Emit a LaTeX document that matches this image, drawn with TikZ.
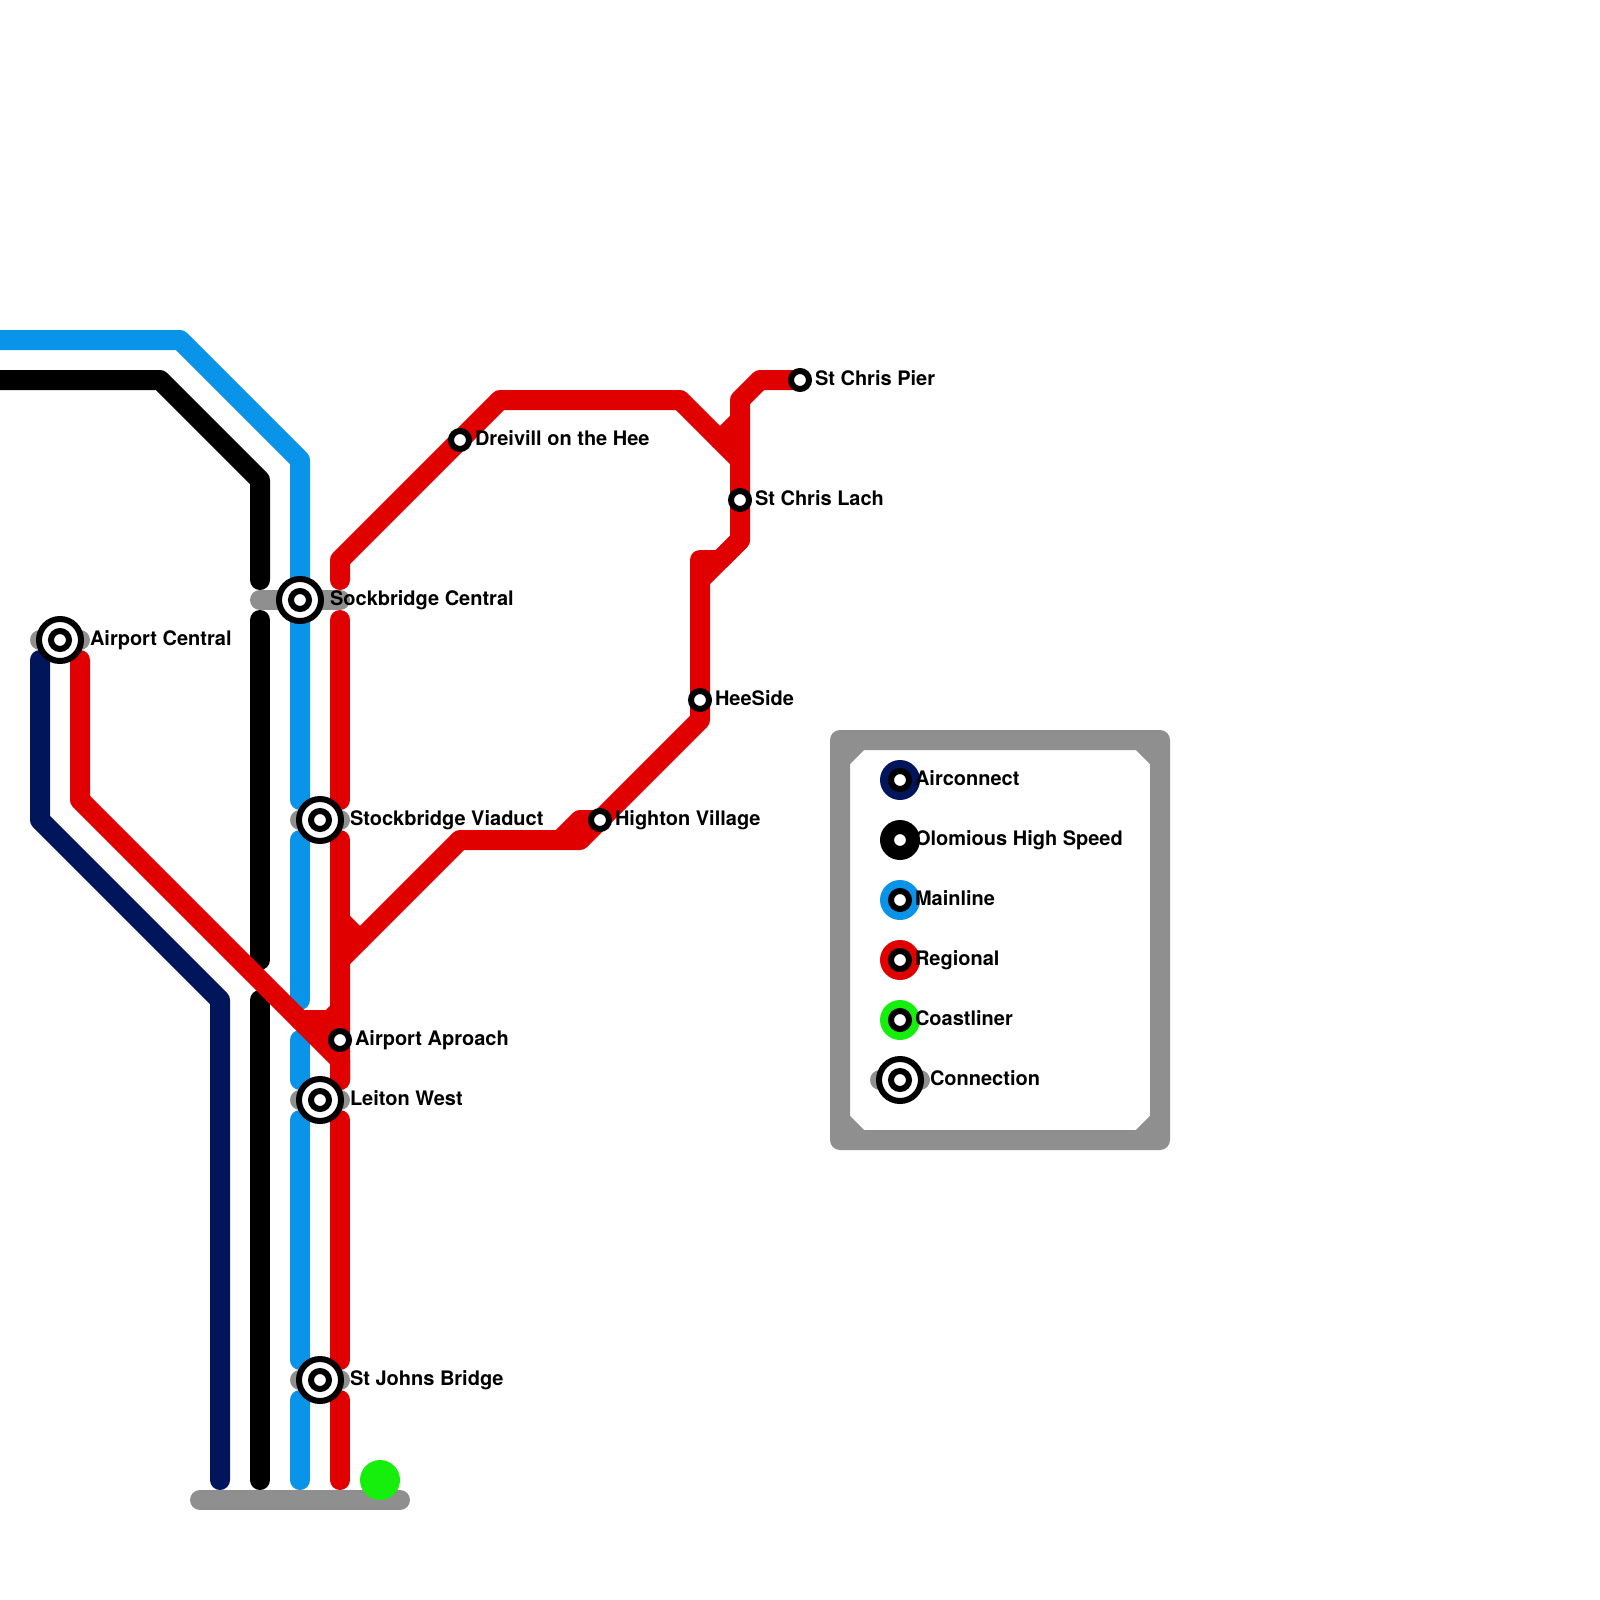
\documentclass[tikz,border=0pt]{standalone}
\usepackage{fontspec}
\setmainfont{TeX Gyre Heros}
\definecolor{airconnect}{HTML}{00155A}
\definecolor{mainline}{HTML}{0994EA}
\definecolor{regional}{HTML}{E10000}
\definecolor{coastliner}{HTML}{16EE0C}
\definecolor{connection}{HTML}{8F8F8F}
\tikzset{
  track/.style = {line width=10pt, line cap=round, line join=round},
  linkbar/.style = {track, color=connection},
  stationsmall/.style = {shape=circle, draw=black, fill=white, line width=3pt,
    minimum size=9pt, inner sep=0pt, outer sep=0pt},
  stationbig/.style = {stationsmall, minimum size=21pt},
  stationlabel/.style = {anchor=base west, inner sep=0pt, outer sep=0pt, text=black,
    font=\bfseries\fontsize{10}{12}\selectfont},
  legenddot/.style = {shape=circle, minimum size=20pt, inner sep=0pt, outer sep=0pt}
}
\begin{document}
\begin{tikzpicture}[x=10pt, y=-10pt]
  \useasboundingbox (0,0) rectangle (80,80);
  \coordinate (central) at (15,30);
  \coordinate (airport) at (3,32);
  \coordinate (viaduct) at (16,41);
  \coordinate (leiton) at (16,55);
  \coordinate (johns) at (16,69);
  \coordinate (dreivill) at (23,22);
  \coordinate (pier) at (40,19);
  \coordinate (lach) at (37,25);
  \coordinate (heeside) at (35,35);
  \coordinate (highton) at (30,41);
  \coordinate (aproach) at (17,52);
  \draw[track, airconnect] (2,33) -- (2,41) -- (11,50) -- (11,74);
  \draw[track, black] (0,19) -- (8,19) -- (13,24) -- (13,29);
  \draw[track, black] (13,31) -- (13,48);
  \draw[track, black] (13,50) -- (13,74);
  \draw[track, mainline] (0,17) -- (9,17) -- (15,23) -- (central) -- (15,40);
  \draw[track, mainline] (15,42) -- (15,50);
  \draw[track, mainline] (15,52) -- (15,54);
  \draw[track, mainline] (15,56) -- (15,68);
  \draw[track, mainline] (15,70) -- (15,74);
  \draw[track, regional] (17,29) -- (17,28) -- (dreivill) -- (25,20) -- (34,20) -- (37,23)
    -- (lach) -- (37,27) -- (35,29) -- (heeside) -- (35,36) -- (highton) -- (29,42) -- (23,42)
    -- (17,48) -- (aproach) -- (17,54);
  \draw[track, regional] (pier) -- (38,19) -- (37,20) -- (37,23);
  \draw[track, regional] (37,21) -- (36,22);
  \draw[track, regional] (35,29) -- (35,28) -- (36,28) -- (37,27);
  \draw[track, regional] (highton) -- (29,41) -- (28,42);
  \draw[track, regional] (18,47) -- (17,46);
  \draw[track, regional] (17,42) -- (aproach);
  \draw[track, regional] (17,31) -- (17,40);
  \draw[track, regional] (4,33) -- (4,40) -- (15,51) -- (17,53) -- (17,54);
  \draw[track, regional] (15,51) -- (16.5,51) -- (17,50.5);
  \draw[track, regional] (16,51) -- (aproach);
  \draw[track, regional] (17,56) -- (17,68);
  \draw[track, regional] (17,70) -- (17,74);
  \draw[linkbar] (10,75) -- (20,75);
  \node[legenddot, fill=coastliner] (terminus) at (19,74) {};
  \draw[linkbar] (13,30) -- (17,30);
  \foreach \hub/\from/\to in {airport/2/4, viaduct/15/17, leiton/15/17, johns/15/17}
    \draw[linkbar] (\from,0 |- \hub) -- (\to,0 |- \hub);
  \foreach \hub in {central, airport, viaduct, leiton, johns} {
    \node[stationbig] (\hub-outer) at (\hub) {};
    \node[stationsmall] (\hub-inner) at (\hub) {};
  }
  \foreach \halt in {dreivill, pier, lach, heeside, highton, aproach}
    \node[stationsmall] (\halt-stop) at (\halt) {};
  \foreach \hub/\name in {central/Sockbridge Central, airport/Airport Central,
      viaduct/Stockbridge Viaduct, leiton/Leiton West, johns/St Johns Bridge}
    \node[stationlabel] (\hub-label) at ([xshift=15pt, yshift=-2.5pt]\hub) {\name};
  \foreach \halt/\name in {dreivill/Dreivill on the Hee, pier/St Chris Pier, lach/St Chris Lach,
      heeside/HeeSide, highton/Highton Village, aproach/Airport Aproach}
    \node[stationlabel] (\halt-label) at ([xshift=7.5pt, yshift=-2.5pt]\halt) {\name};
  \draw[linkbar] (42,37) rectangle (58,57)
    (42,38) -- (43,37) (57,37) -- (58,38) (58,56) -- (57,57) (43,57) -- (42,56);
  \foreach \row/\tint/\name in {39/airconnect/Airconnect, 42/black/Olomious High Speed,
      45/mainline/Mainline, 48/regional/Regional, 51/coastliner/Coastliner} {
    \node[legenddot, fill=\tint] (key-\row) at (45,\row) {};
    \node[stationsmall] (key-\row-stop) at (key-\row) {};
    \node[stationlabel] (key-\row-label) at ([xshift=7.5pt, yshift=-2.5pt]key-\row) {\name};
  }
  \draw[linkbar] (44,54) -- (46,54);
  \node[stationbig] (key-hub-outer) at (45,54) {};
  \node[stationsmall] (key-hub-inner) at (45,54) {};
  \node[stationlabel] (key-hub-label) at ([xshift=15pt, yshift=-2.5pt]key-hub-outer.center) {Connection};
\end{tikzpicture}
\end{document}
